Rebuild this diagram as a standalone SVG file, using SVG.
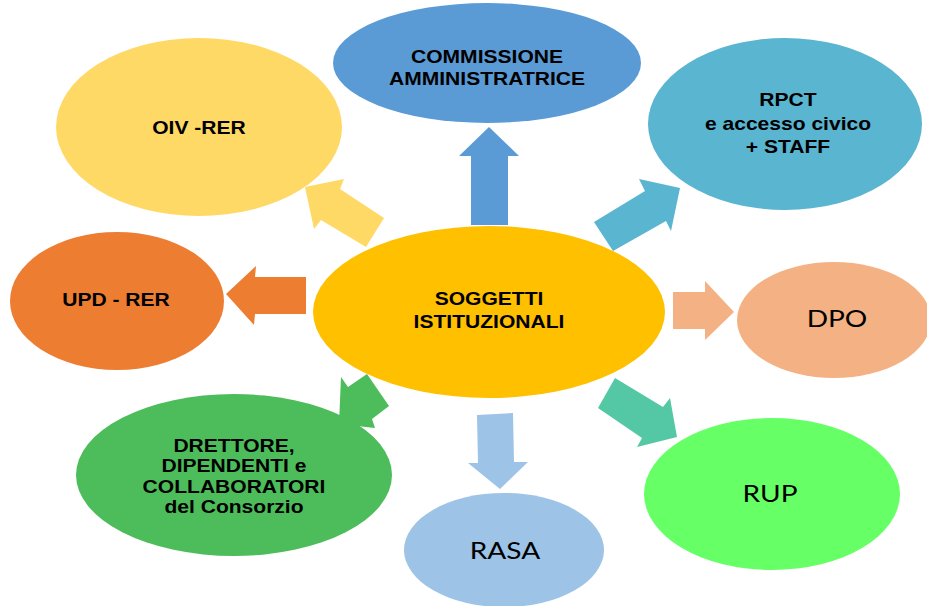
<svg xmlns="http://www.w3.org/2000/svg" width="927" height="606" viewBox="0 0 927 606">
<style>
.b{font-family:"Liberation Sans",Arial,sans-serif;font-weight:bold;font-size:18px;fill:#000;text-anchor:middle}
.c{font-family:Lato,"Open Sans",sans-serif;font-size:24px;fill:#000;text-anchor:middle}
</style>
<rect width="927" height="606" fill="#fff"/>
<g id="connectors">
<polygon fill="#5B9BD5" points="471,225 471,156 459,156 489,127 519,156 508,156 508,225"/>
<polygon fill="#FFD966" points="384,218 340,189 344,179 305,187 314,229 321,220 366,247"/>
<polygon fill="#5AB5D0" points="594,222 645,191 639,179 680,188 671,231 666,221 613,251"/>
<polygon fill="#ED7D31" points="306,277 255,277 256,266 226,294 254,325 255,314 306,314"/>
<polygon fill="#F4B183" points="673,292 705,292 705,281 734,312 705,340 705,329 673,329"/>
<polygon fill="#4CBD5A" points="367,374 348,387 341,377 339,424 375,428 372,419 389,406"/>
<polygon fill="#9DC3E6" points="477,415 513,413 514,462 528,462 500,489 468,463 478,463"/>
<polygon fill="#54C8A4" points="615,378 663,407 670,398 677,437 637,447 642,438 598,408"/>
</g>
<g id="center">
<ellipse cx="489" cy="312" rx="176" ry="86" fill="#FFC000"/>
<g transform="translate(489 0) scale(1.17 1)"><text class="b" x="0" y="305">SOGGETTI</text><text class="b" x="0" y="328">ISTITUZIONALI</text></g>
</g>
<g id="commissione">
<ellipse cx="487" cy="63" rx="154" ry="60" fill="#5B9BD5"/>
<g transform="translate(487 0) scale(1.17 1)"><text class="b" x="0" y="63">COMMISSIONE</text><text class="b" x="0" y="85">AMMINISTRATRICE</text></g>
</g>
<g id="oiv">
<ellipse cx="199" cy="127" rx="143" ry="89" fill="#FFD966"/>
<g transform="translate(199 0) scale(1.17 1)"><text class="b" x="0" y="134">OIV -RER</text></g>
</g>
<g id="rpct">
<ellipse cx="785" cy="124" rx="137" ry="86" fill="#5AB5D0"/>
<g transform="translate(788 0) scale(1.17 1)"><text class="b" x="0" y="106">RPCT</text><text class="b" x="0" y="130">e accesso civico</text><text class="b" x="0" y="153">+ STAFF</text></g>
</g>
<g id="upd">
<ellipse cx="117" cy="301" rx="107" ry="69" fill="#ED7D31"/>
<g transform="translate(116 0) scale(1.17 1)"><text class="b" x="0" y="306">UPD - RER</text></g>
</g>
<g id="dpo">
<ellipse cx="834" cy="320" rx="97" ry="58" fill="#F4B183"/>
<g transform="translate(837 0) scale(1.17 1)"><text class="c" x="0" y="327">DPO</text></g>
</g>
<g id="direttore">
<ellipse cx="234" cy="475" rx="158" ry="81" fill="#4CBD5A"/>
<g transform="translate(234 0) scale(1.17 1)"><text class="b" x="0" y="452">DRETTORE,</text><text class="b" x="0" y="472">DIPENDENTI e</text><text class="b" x="0" y="493">COLLABORATORI</text><text class="b" x="0" y="513">del Consorzio</text></g>
</g>
<g id="rasa">
<ellipse cx="504" cy="550" rx="100" ry="57" fill="#9DC3E6"/>
<g transform="translate(505 0) scale(1.17 1)"><text class="c" x="0" y="559">RASA</text></g>
</g>
<g id="rup">
<ellipse cx="772" cy="494" rx="128" ry="76" fill="#66FF66"/>
<g transform="translate(770 0) scale(1.17 1)"><text class="c" x="0" y="502">RUP</text></g>
</g>
</svg>
